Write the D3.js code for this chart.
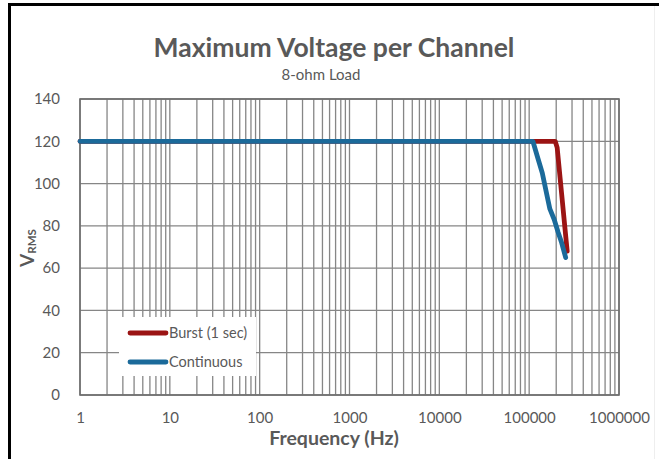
<!DOCTYPE html>
<html><head><meta charset="utf-8">
<script src="https://cdn.jsdelivr.net/npm/d3@7/dist/d3.min.js"></script>
<style>body{margin:0;background:#fff}svg{display:block}text{font-family:Lato,"Open Sans",sans-serif}</style>
</head><body><svg id="c" width="659" height="459"></svg>
<script>
const xTicks = [1, 10, 100, 1000, 10000, 100000, 1000000];
const yTicks = [0, 20, 40, 60, 80, 100, 120, 140];
const burstFreq = [1, 100000, 195000, 205000, 230000, 265000];
const burstV = [120, 120, 120, 117, 95, 68];
const contFreq = [1, 100000, 110000, 125000, 140000, 155000, 170000, 190000, 210000, 230000, 255000];
const contV = [120, 120, 120, 112, 105, 96, 88, 83, 77, 72, 65];
const seriesNames = ["Burst (1 sec)", "Continuous"];
const seriesColors = ["#9b1414", "#1b6a9a"];

const svg = d3.select("#c");
svg.append("rect").attr("x",0).attr("y",0).attr("width",659).attr("height",459).attr("fill","#fff");
svg.append("line").attr("x1",8).attr("x2",659).attr("y1",4.5).attr("y2",4.5).attr("stroke","#000").attr("stroke-width",3);
svg.append("line").attr("x1",9.5).attr("x2",9.5).attr("y1",3).attr("y2",459).attr("stroke","#000").attr("stroke-width",3);
svg.append("line").attr("x1",654.5).attr("x2",654.5).attr("y1",6).attr("y2",459).attr("stroke","#eee").attr("stroke-width",1);

const x = d3.scaleLog().domain([1,1e6]).range([80,619]);
const y = d3.scaleLinear().domain([0,140]).range([395,99]);

const vg = [];
for (let d=1; d<1e6; d*=10) for (let k=1;k<10;k++) vg.push(k*d);
vg.push(1e6);
svg.append("g").selectAll("line").data(vg).join("line")
  .attr("x1",d=>x(d)).attr("x2",d=>x(d)).attr("y1",y(140)).attr("y2",y(0))
  .attr("stroke","#868686").attr("stroke-width",1.3);
svg.append("g").selectAll("line").data(yTicks).join("line")
  .attr("x1",x(1)).attr("x2",x(1e6)).attr("y1",d=>y(d)).attr("y2",d=>y(d))
  .attr("stroke","#868686").attr("stroke-width",1.3);
svg.append("rect").attr("x",x(1)).attr("y",y(140)).attr("width",x(1e6)-x(1)).attr("height",y(0)-y(140))
  .attr("fill","none").attr("stroke","#6e6e6e").attr("stroke-width",1.6);

const xAxis = svg.append("g").attr("transform",`translate(0,${y(0)+14})`)
  .call(d3.axisBottom(x).tickValues(xTicks).tickFormat(d3.format("d")).tickSize(0));
xAxis.select(".domain").remove();
xAxis.selectAll("text").attr("fill","#595959").attr("font-size",15).attr("font-family","Lato,sans-serif");
const yAxis = svg.append("g").attr("transform",`translate(${x(1)-17},0)`)
  .call(d3.axisLeft(y).tickValues(yTicks).tickSize(0));
yAxis.select(".domain").remove();
yAxis.selectAll("text").attr("fill","#595959").attr("font-size",15).attr("font-family","Lato,sans-serif");

const line = d3.line().x(d=>x(d[0])).y(d=>y(d[1]));
const series = [d3.zip(burstFreq,burstV), d3.zip(contFreq,contV)];
series.forEach((s,i)=>{
  svg.append("path").datum(s).attr("d",line).attr("fill","none")
    .attr("stroke",seriesColors[i]).attr("stroke-width",4.8)
    .attr("stroke-linejoin","round").attr("stroke-linecap","round");
});

svg.append("rect").attr("x",119).attr("y",317).attr("width",137).attr("height",59).attr("fill","#fff");
seriesNames.forEach((n,i)=>{
  const ly = 333 + i*29;
  svg.append("line").attr("x1",130).attr("x2",166).attr("y1",ly).attr("y2",ly)
    .attr("stroke",seriesColors[i]).attr("stroke-width",4.8).attr("stroke-linecap","round");
  svg.append("text").attr("x",169).attr("y",ly+5).text(n).attr("font-size",14.5).attr("fill","#595959");
});

svg.append("text").attr("x",334).attr("y",57).attr("text-anchor","middle").attr("font-size",26.5)
  .attr("font-weight","bold").attr("fill","#595959").text("Maximum Voltage per Channel");
svg.append("text").attr("x",321).attr("y",80).attr("text-anchor","middle").attr("font-size",15)
  .attr("fill","#595959").text("8-ohm Load");
svg.append("text").attr("x",334).attr("y",445).attr("text-anchor","middle").attr("font-size",19.5)
  .attr("font-weight","bold").attr("fill","#595959").text("Frequency (Hz)");
const yl = svg.append("text").attr("transform","translate(34,248) rotate(-90)").attr("text-anchor","middle")
  .attr("font-size",19).attr("font-weight","bold").attr("fill","#595959");
yl.append("tspan").text("V");
yl.append("tspan").attr("font-size",11.5).attr("dy",2).text("RMS");
</script></body></html>
